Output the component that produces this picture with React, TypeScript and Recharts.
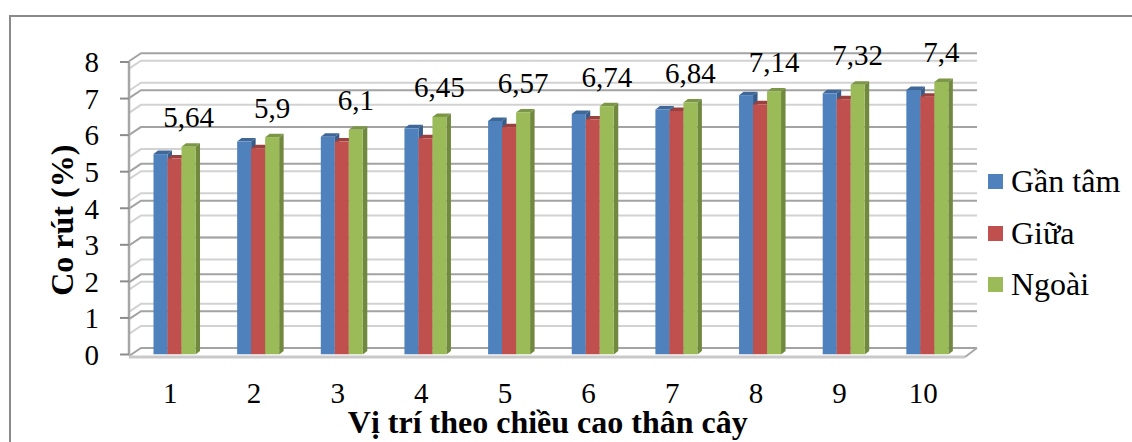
import React from 'react';
import { BarChart, Bar, XAxis, YAxis, CartesianGrid, Legend, LabelList, Label } from 'recharts';

const positions = ['1', '2', '3', '4', '5', '6', '7', '8', '9', '10'];
const ganTam = [5.44, 5.78, 5.91, 6.14, 6.34, 6.53, 6.65, 7.04, 7.09, 7.18];
const giua = [5.32, 5.6, 5.78, 5.87, 6.17, 6.38, 6.61, 6.79, 6.93, 7.0];
const ngoai = [5.64, 5.9, 6.1, 6.45, 6.57, 6.74, 6.84, 7.14, 7.32, 7.4];

const yTicks = [0, 1, 2, 3, 4, 5, 6, 7, 8];
const wallLines = [0, 1, 2, 3, 4, 5, 6, 7, 8];
const fineLines = [0.6, 1.2, 1.8, 2.4, 3, 3.6, 4.2, 4.8, 5.4, 6, 6.6, 7.2, 7.8];

const data = positions.map((position, i) => ({
  position,
  ganTam: ganTam[i],
  giua: giua[i],
  ngoai: ngoai[i],
}));

const FONT = '"Liberation Serif", serif';

// depth of the box the chart sits in
const WALL_DX = 12;
const WALL_DY = 6.5;
const BAR_DX = 4.5;
const BAR_DY = 3.5;

const wallLine = (stroke: string) => (props: any) => {
  const { x1, x2, y1, key } = props;
  const back = y1 - WALL_DY;
  return (
    <path
      key={key}
      d={`M${x1},${back + 8} L${x1 + WALL_DX},${back} H${x2 + 4.5}`}
      fill="none"
      stroke={stroke}
      strokeWidth={2}
    />
  );
};

const floorLine = (props: any) => {
  const { x1, x2, y1, key } = props;
  return (
    <g key={key}>
      <path d={`M${x1},${y1 + 2.5} H${x2 - 7.5}`} stroke="#c9c9c9" strokeWidth={3} fill="none" />
      <path d={`M${x2 - 7.5},${y1 + 2.5} L${x2 + 4.5},${y1 - WALL_DY}`} stroke="#a8a8a8" strokeWidth={2} fill="none" />
    </g>
  );
};

const Bar3D = (props: any) => {
  const { x, y, width, height, fill, topFill, sideFill } = props;
  const right = x + width;
  const bottom = y + height;
  return (
    <g>
      <path
        d={`M${right},${y} l${BAR_DX},${-BAR_DY} V${bottom - BAR_DY} L${right},${bottom} Z`}
        fill={sideFill}
      />
      <path
        d={`M${x},${y} l${BAR_DX},${-BAR_DY} H${right + BAR_DX} L${right},${y} Z`}
        fill={topFill}
      />
      <rect x={x} y={y} width={width} height={height} fill={fill} />
    </g>
  );
};

const LegendList = ({ payload }: any) => (
  <div style={{ fontFamily: FONT, fontSize: 32, color: '#000' }}>
    {payload.map((item: any) => (
      <div key={item.value} style={{ display: 'flex', alignItems: 'center', height: 51.5 }}>
        <span style={{ width: 15, height: 15, background: item.color, marginRight: 8 }} />
        <span>{item.value}</span>
      </div>
    ))}
  </div>
);

export default function App() {
  return (
    <div style={{ position: 'absolute', left: 0, top: 0, width: 1132, height: 442, overflow: 'hidden', background: '#fff' }}>
      <div
        style={{
          position: 'absolute',
          left: 9,
          top: 15,
          right: 0,
          bottom: 0,
          borderTop: '2px solid #8a8a8a',
          borderLeft: '2px solid #8a8a8a',
        }}
      />
      <BarChart
        width={1132}
        height={442}
        data={data}
        margin={{ top: 62, right: 159.5, bottom: 0, left: 69 }}
        barSize={14}
        barGap={0}
        style={{ position: 'absolute', left: 0, top: 0 }}
      >
        <CartesianGrid yAxisId="bars" vertical={false} horizontalValues={fineLines} horizontal={wallLine('#d2d2d2')} />
        <CartesianGrid yAxisId="bars" vertical={false} horizontalValues={wallLines} horizontal={wallLine('#a3a3a3')} />
        <CartesianGrid yAxisId="bars" vertical={false} horizontalValues={[0]} horizontal={floorLine} />
        <XAxis
          dataKey="position"
          height={87.5}
          padding={{ left: 3.5, right: 3.5 }}
          axisLine={false}
          tickLine={false}
          tickMargin={22}
          tick={{ fontFamily: FONT, fontSize: 29, fill: '#000', dx: -4 }}
        >
          <Label
            value="Vị trí theo chiều cao thân cây"
            position="insideBottom"
            offset={9}
            dx={-3}
            style={{ fontFamily: FONT, fontSize: 32, fontWeight: 700, fill: '#000' }}
          />
        </XAxis>
        <YAxis
          yAxisId="ticks"
          width={60}
          domain={[0, 8]}
          allowDataOverflow
          ticks={yTicks}
          interval={0}
          axisLine={{ stroke: '#a6a6a6', strokeWidth: 2.5 }}
          tickLine={{ stroke: '#8c8c8c', strokeWidth: 2 }}
          tickSize={9}
          tickMargin={21}
          tick={{ fontFamily: FONT, fontSize: 29, fill: '#000' }}
        >
          <Label
            value="Co rút (%)"
            angle={-90}
            position="center"
            dx={-37}
            dy={12}
            style={{ fontFamily: FONT, fontSize: 32, fontWeight: 700, fill: '#000' }}
          />
        </YAxis>
        <YAxis yAxisId="bars" hide width={0} domain={[0, 7.94]} allowDataOverflow interval={0} />
        <Legend
          layout="horizontal"
          verticalAlign="middle"
          itemSorter={null}
          content={<LegendList />}
          wrapperStyle={{ left: 988, top: 156, width: 140, bottom: 'auto', right: 'auto' }}
        />
        <Bar
          yAxisId="bars"
          dataKey="ganTam"
          name="Gần tâm"
          fill="#4f81bd"
          isAnimationActive={false}
          shape={(p: any) => <Bar3D {...p} topFill="#3f6797" sideFill="#385d8a" />}
        />
        <Bar
          yAxisId="bars"
          dataKey="giua"
          name="Giữa"
          fill="#c0504d"
          isAnimationActive={false}
          shape={(p: any) => <Bar3D {...p} topFill="#9a403e" sideFill="#8c3836" />}
        />
        <Bar
          yAxisId="bars"
          dataKey="ngoai"
          name="Ngoài"
          fill="#9bbb59"
          isAnimationActive={false}
          shape={(p: any) => <Bar3D {...p} topFill="#7c9647" sideFill="#71893f" />}
        >
          <LabelList
            dataKey="ngoai"
            position="top"
            offset={19.5}
            formatter={(v: any) => String(v).replace('.', ',')}
            style={{ fontFamily: FONT, fontSize: 29, fill: '#000' }}
          />
        </Bar>
      </BarChart>
    </div>
  );
}
